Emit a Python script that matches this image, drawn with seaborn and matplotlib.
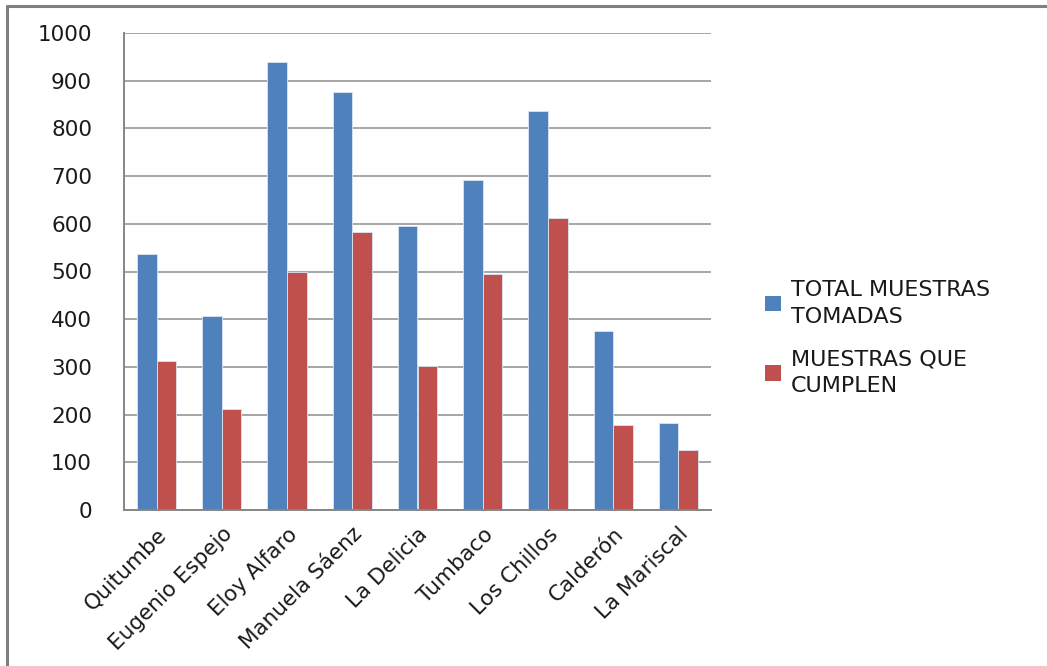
import matplotlib
matplotlib.use("Agg")
import matplotlib.pyplot as plt
import matplotlib.patches as mpatches
import matplotlib.lines as mlines
import pandas as pd
import seaborn as sns

# Sample counts per administrative zone
zonas = ["Quitumbe", "Eugenio Espejo", "Eloy Alfaro", "Manuela Sáenz", "La Delicia",
         "Tumbaco", "Los Chillos", "Calderón", "La Mariscal"]
total_tomadas = [536, 407, 940, 876, 596, 691, 837, 375, 183]
que_cumplen = [312, 211, 498, 583, 301, 494, 612, 178, 126]
series = ["TOTAL MUESTRAS\nTOMADAS", "MUESTRAS QUE\nCUMPLEN"]
colores = ["#4F81BD", "#C0504D"]
yticks = [0, 100, 200, 300, 400, 500, 600, 700, 800, 900, 1000]

df = pd.DataFrame({
    "zona": zonas * 2,
    "valor": total_tomadas + que_cumplen,
    "serie": [series[0]] * len(zonas) + [series[1]] * len(zonas),
})

sns.set_style("white")
plt.rcParams["font.family"] = ["DejaVu Sans"]

fig = plt.figure(figsize=(10.47, 6.66), dpi=100)
ax = fig.add_axes([124 / 1047, 1 - 510 / 666, (711 - 124) / 1047, (510 - 33) / 666])

sns.barplot(data=df, x="zona", y="valor", hue="serie", palette=colores,
            width=0.6, ax=ax, legend=False, edgecolor="#dce6f2", linewidth=0.6,
            saturation=1)

grid_c = "#a6a6a6"
axis_c = "#868686"
ax.set_ylim(0, 1000)
ax.set_xlim(-0.5, len(zonas) - 0.5)
ax.set_yticks(yticks)
ax.set_yticklabels([str(v) for v in yticks], fontsize=15.5, color="#1a1a1a")
ax.yaxis.grid(True, color=grid_c, linewidth=1.4)
ax.set_axisbelow(True)
ax.set_xlabel("")
ax.set_ylabel("")

# Category ticks sit between the groups, labels at the group centres
ax.set_xticks([i - 0.5 for i in range(len(zonas) + 1)], minor=False)
ax.set_xticklabels([])
ax.set_xticks(range(len(zonas)), minor=True)
ax.set_xticklabels(zonas, minor=True, rotation=45, ha="right",
                   rotation_mode="anchor", fontsize=15.5, color="#1a1a1a")
ax.tick_params(axis="x", which="minor", length=0, pad=10)
ax.tick_params(axis="x", which="major", length=7, width=1.2, color=axis_c, direction="out")
ax.tick_params(axis="y", length=9, width=1.2, color=axis_c, direction="out", pad=14)

for side in ["top", "right"]:
    ax.spines[side].set_visible(False)
for side in ["left", "bottom"]:
    ax.spines[side].set_color(axis_c)
    ax.spines[side].set_linewidth(1.4)

handles = [mpatches.Rectangle((0, 0), 1, 1, facecolor=c, edgecolor="none") for c in colores]
leg = fig.legend(handles, series, loc="center left", bbox_to_anchor=(745 / 1047, 1 - 338 / 666),
                 frameon=False, fontsize=16, handlelength=0.7, handleheight=0.7,
                 handletextpad=0.45, labelspacing=1.0, labelcolor="#1a1a1a")
for t in leg.get_texts():
    t.set_linespacing(1.45)

# Chart-area border
fig.add_artist(mlines.Line2D([7 / 1047, 7 / 1047], [0, 1 - 6 / 666],
                             transform=fig.transFigure, color="#7f7f7f", linewidth=2.2))
fig.add_artist(mlines.Line2D([7 / 1047, 1], [1 - 6 / 666, 1 - 6 / 666],
                             transform=fig.transFigure, color="#7f7f7f", linewidth=2.2))

fig.savefig("out.png", dpi=100, facecolor="white")
